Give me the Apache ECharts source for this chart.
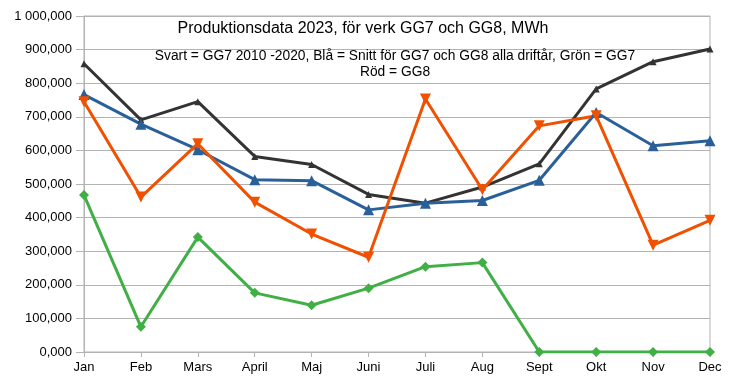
<!DOCTYPE html>
<html><head><meta charset="utf-8">
<script src="https://cdn.jsdelivr.net/npm/echarts@6/dist/echarts.min.js"></script>
<style>html,body{margin:0;padding:0;background:#fff}#c{width:750px;height:389px}</style>
</head><body><div id="c"></div>
<script>
const months = ["Jan","Feb","Mars","April","Maj","Juni","Juli","Aug","Sept","Okt","Nov","Dec"];
const svartGG7_2010_2020 = [858000,691000,745000,582000,558000,469000,443000,491000,560000,783000,864000,902000];
const blaSnitt = [766000,678000,602000,513000,510000,423000,443000,451000,511000,713000,614000,629000];
const rodGG8 = [745000,461000,620000,446000,351000,282000,753000,483000,673000,703000,318000,392000];
const gronGG7 = [467000,75000,342000,176000,139000,190000,254000,266000,0,0,0,0];
const yTickLabels = ["0,000","100,000","200,000","300,000","400,000","500,000","600,000","700,000","800,000","900,000","1 000,000"];
const titleText = "Produktionsdata 2023, för verk GG7 och GG8, MWh";
const subText = "Svart = GG7 2010 -2020, Blå = Snitt för GG7 och GG8 alla driftår, Grön = GG7\nRöd = GG8";

const chart = echarts.init(document.getElementById('c'), null, {renderer:'canvas'});
const font = 'Liberation Sans, Arial, sans-serif';
function ser(name, data, color, symbol, size, rotate){
  return {name, type:'line', data, symbol, symbolSize:size, symbolRotate:rotate||0,
    lineStyle:{color, width:3}, itemStyle:{color}, z:3};
}
chart.setOption({
  animation:false,
  backgroundColor:'#fff',
  title:[
    {text:titleText, left:358, top:16, textAlign:'center',
     textStyle:{fontFamily:font, fontSize:16, fontWeight:'normal', color:'#000'}},
    {text:subText, left:390, top:43, textAlign:'center',
     textStyle:{fontFamily:font, fontSize:13.8, fontWeight:'normal', color:'#000', lineHeight:16, align:'center'}}
  ],
  grid:{left:84, right:40, top:16, bottom:37, show:true, borderColor:'#b3b3b3', borderWidth:1},
  xAxis:{type:'category', data:months, boundaryGap:false,
    axisLine:{lineStyle:{color:'#b3b3b3'}},
    axisTick:{show:true, length:5, lineStyle:{color:'#b3b3b3'}},
    axisLabel:{color:'#000', fontFamily:font, fontSize:13, margin:9},
    splitLine:{show:false}},
  yAxis:{type:'value', min:0, max:1000000, interval:100000,
    axisLine:{show:true, lineStyle:{color:'#b3b3b3'}},
    axisTick:{show:true, length:8, lineStyle:{color:'#b3b3b3'}},
    axisLabel:{color:'#000', fontFamily:font, fontSize:13, margin:12,
      formatter:(v)=>yTickLabels[Math.round(v/100000)]},
    splitLine:{lineStyle:{color:'#b3b3b3'}}},
  series:[
    ser('Svart', svartGG7_2010_2020, '#333333', 'triangle', 7),
    ser('Blå', blaSnitt, '#2a6099', 'triangle', 11),
    ser('Röd', rodGG8, '#f05000', 'triangle', 11, 180),
    ser('Grön', gronGG7, '#3faf46', 'diamond', 10)
  ]
});
</script></body></html>
